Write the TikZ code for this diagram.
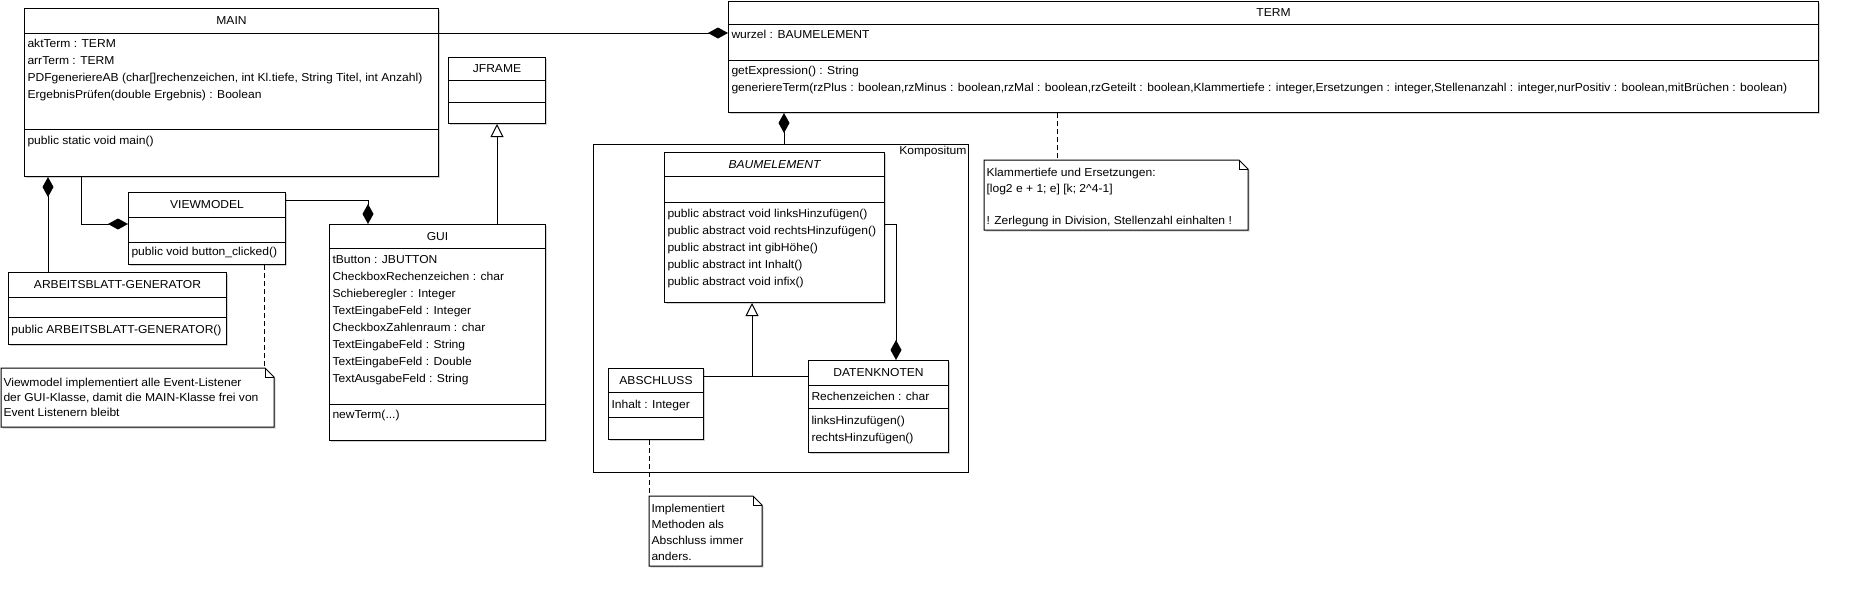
\documentclass[tikz,border=0pt]{standalone}
\usepackage{fontspec}
\setmainfont{Liberation Sans}[FakeStretch=1.05]
\usetikzlibrary{arrows.meta,shadows}

\begin{document}
\begin{tikzpicture}[x=1pt,y=-1pt,line width=1pt,font=\fontsize{11.5}{17}\selectfont,
  cls/.style={draw,fill=white,anchor=north west,inner sep=0pt,drop shadow={shadow xshift=1.5pt,shadow yshift=-1.5pt,fill=black!35}},
  title/.style={inner sep=0pt,text height=8pt,text depth=0pt},
  member/.style={anchor=west,inner sep=0pt,xshift=3pt,text height=8pt,text depth=0pt},
  note/.style={anchor=north west,inner sep=0pt},
  comp/.style={-{Diamond[length=20pt,width=11pt]}},
  inherit/.style={-{Triangle[open,length=13pt,width=13pt]}},
  notelink/.style={dash pattern=on 5pt off 3pt}]

\useasboundingbox (0,0) rectangle (1856,606);

% Kompositum
\node (kompo) at (593,144)[draw,anchor=north west,inner sep=0pt,minimum width=375pt,minimum height=328pt]{};
\node[anchor=north east,inner sep=2pt] at (kompo.north east) {Kompositum};

% MAIN
\node (main) at (24,8)[cls,minimum width=414pt,minimum height=168pt]{};
\node[title] at (main.north |- 0,20) {MAIN};
\draw (main.west |- 0,33) -- (main.east |- 0,33);
\draw (main.west |- 0,129) -- (main.east |- 0,129);
\foreach \t [count=\i from 0] in {aktTerm : TERM, arrTerm : TERM, {PDFgeneriereAB (char[]rechenzeichen, int Kl.tiefe, String Titel, int Anzahl)}, ErgebnisPrüfen(double Ergebnis) : Boolean}
{
\node[member] at (main.west |- 0,43+17*\i) {\t};
}
\node[member] at (main.west |- 0,140) {public static void main()};

% JFRAME
\node (jframe) at (448,57)[cls,minimum width=97pt,minimum height=66pt]{};
\node[title] at (jframe.north |- 0,68) {JFRAME};
\draw (jframe.west |- 0,80) -- (jframe.east |- 0,80);
\draw (jframe.west |- 0,102) -- (jframe.east |- 0,102);

% VIEWMODEL
\node (viewmodel) at (128,192)[cls,minimum width=157pt,minimum height=72pt]{};
\node[title] at (viewmodel.north |- 0,204) {VIEWMODEL};
\draw (viewmodel.west |- 0,217) -- (viewmodel.east |- 0,217);
\draw (viewmodel.west |- 0,242) -- (viewmodel.east |- 0,242);
\node[member] at (viewmodel.west |- 0,251) {public void button\_clicked()};

% ARBEITSBLATT-GENERATOR
\node (arb) at (8,272)[cls,minimum width=218pt,minimum height=72pt]{};
\node[title] at (arb.north |- 0,284) {ARBEITSBLATT-GENERATOR};
\draw (arb.west |- 0,297) -- (arb.east |- 0,297);
\draw (arb.west |- 0,317) -- (arb.east |- 0,317);
\node[member] at (arb.west |- 0,329) {public ARBEITSBLATT-GENERATOR()};

% GUI
\node (gui) at (329,224)[cls,minimum width=216pt,minimum height=216pt]{};
\node[title] at (gui.north |- 0,236) {GUI};
\draw (gui.west |- 0,248) -- (gui.east |- 0,248);
\draw (gui.west |- 0,404) -- (gui.east |- 0,404);
\foreach \t [count=\i from 0] in {tButton : JBUTTON, CheckboxRechenzeichen : char, Schieberegler : Integer, TextEingabeFeld : Integer, CheckboxZahlenraum : char, TextEingabeFeld : String, TextEingabeFeld : Double, TextAusgabeFeld : String}
{
\node[member] at (gui.west |- 0,259+17*\i) {\t};
}
\node[member] at (gui.west |- 0,414) {newTerm(...)};

% TERM
\node (term) at (728,1)[cls,minimum width=1090pt,minimum height=111pt]{};
\node[title] at (term.north |- 0,12) {TERM};
\draw (term.west |- 0,24) -- (term.east |- 0,24);
\draw (term.west |- 0,60) -- (term.east |- 0,60);
\node[member] at (term.west |- 0,34) {wurzel : BAUMELEMENT};
\foreach \t [count=\i from 0] in {getExpression() : String, {generiereTerm(rzPlus : boolean,rzMinus : boolean,rzMal : boolean,rzGeteilt : boolean,Klammertiefe : integer,Ersetzungen : integer,Stellenanzahl : integer,nurPositiv : boolean,mitBrüchen : boolean)}}
{
\node[member] at (term.west |- 0,70+17*\i) {\t};
}

% BAUMELEMENT
\node (baum) at (664,152)[cls,minimum width=220pt,minimum height=150pt]{};
\node[title,font=\fontsize{11.5}{17}\selectfont\itshape] at (baum.north |- 0,164) {BAUMELEMENT};
\draw (baum.west |- 0,176) -- (baum.east |- 0,176);
\draw (baum.west |- 0,202) -- (baum.east |- 0,202);
\foreach \t [count=\i from 0] in {public abstract void linksHinzufügen(), public abstract void rechtsHinzufügen(), public abstract int gibHöhe(), public abstract int Inhalt(), public abstract void infix()}
{
\node[member] at (baum.west |- 0,213+17*\i) {\t};
}

% ABSCHLUSS
\node (abschluss) at (608,368)[cls,minimum width=95pt,minimum height=71pt]{};
\node[title] at (abschluss.north |- 0,380) {ABSCHLUSS};
\draw (abschluss.west |- 0,392) -- (abschluss.east |- 0,392);
\draw (abschluss.west |- 0,417) -- (abschluss.east |- 0,417);
\node[member] at (abschluss.west |- 0,404) {Inhalt : Integer};

% DATENKNOTEN
\node (daten) at (808,360)[cls,minimum width=140pt,minimum height=92pt]{};
\node[title] at (daten.north |- 0,372) {DATENKNOTEN};
\draw (daten.west |- 0,385) -- (daten.east |- 0,385);
\draw (daten.west |- 0,408) -- (daten.east |- 0,408);
\node[member] at (daten.west |- 0,396) {Rechenzeichen : char};
\node[member] at (daten.west |- 0,420) {linksHinzufügen()};
\node[member] at (daten.west |- 0,437) {rechtsHinzufügen()};

% notes
\node (note1) at (1,368)[note,minimum width=272pt,minimum height=58pt]{};
\node (note2) at (984,160)[note,minimum width=263pt,minimum height=69pt]{};
\node (note3) at (649,496)[note,minimum width=112pt,minimum height=69pt]{};
\foreach \n in {note1,note2,note3}
{
\draw[fill=white,drop shadow={shadow xshift=1.5pt,shadow yshift=-1.5pt,fill=black!35}] (\n.north west) -- ([xshift=-9pt]\n.north east) -- ([yshift=-9pt]\n.north east) -- (\n.south east) -- (\n.south west) -- cycle;
\draw ([xshift=-9pt]\n.north east) |- ([yshift=-9pt]\n.north east);
}
\foreach \t [count=\i from 0] in {Viewmodel implementiert alle Event-Listener, {der GUI-Klasse, damit die MAIN-Klasse frei von}, Event Listenern bleibt}
{
\node[member,xshift=-1pt] at (note1.west |- 0,382+15*\i) {\t};
}
\node[member,xshift=-1pt] at (note2.west |- 0,172) {Klammertiefe und Ersetzungen:};
\node[member,xshift=-1pt] at (note2.west |- 0,188) {[log2 e + 1; e] [k; 2\textasciicircum 4-1]};
\node[member,xshift=-1pt] at (note2.west |- 0,220) {! Zerlegung in Division, Stellenzahl einhalten !};
\foreach \t [count=\i from 0] in {Implementiert, Methoden als, Abschluss immer, anders.}
{
\node[member,xshift=-1pt] at (note3.west |- 0,508+16*\i) {\t};
}

% connectors
\draw[comp] (main.east |- 0,33) -- (term.west |- 0,33);
\draw[comp] (arb.north -| 48,0) -- (main.south -| 48,0);
\draw[comp] (main.south -| 81,0) |- (viewmodel.west |- 0,224);
\draw[comp] (viewmodel.east |- 0,200) -| (gui.north -| 368,0);
\draw[inherit] (gui.north -| jframe.south) -- (jframe.south);
\draw[comp] (kompo.north -| 784,0) -- (term.south -| 784,0);
\draw[comp] (baum.east |- 0,224) -| (daten.north -| 896,0);
\coordinate (join) at (752,376);
\draw (abschluss.east |- join) -- (daten.west |- join);
\draw[inherit] (join) -- (baum.south -| join);
\draw[notelink] (viewmodel.south -| 264,0) -- (note1.north -| 264,0);
\draw[notelink] (term.south -| 1057,0) -- (note2.north -| 1057,0);
\draw[notelink] (abschluss.south -| 649,0) -- (note3.north -| 649,0);

\end{tikzpicture}
\end{document}
